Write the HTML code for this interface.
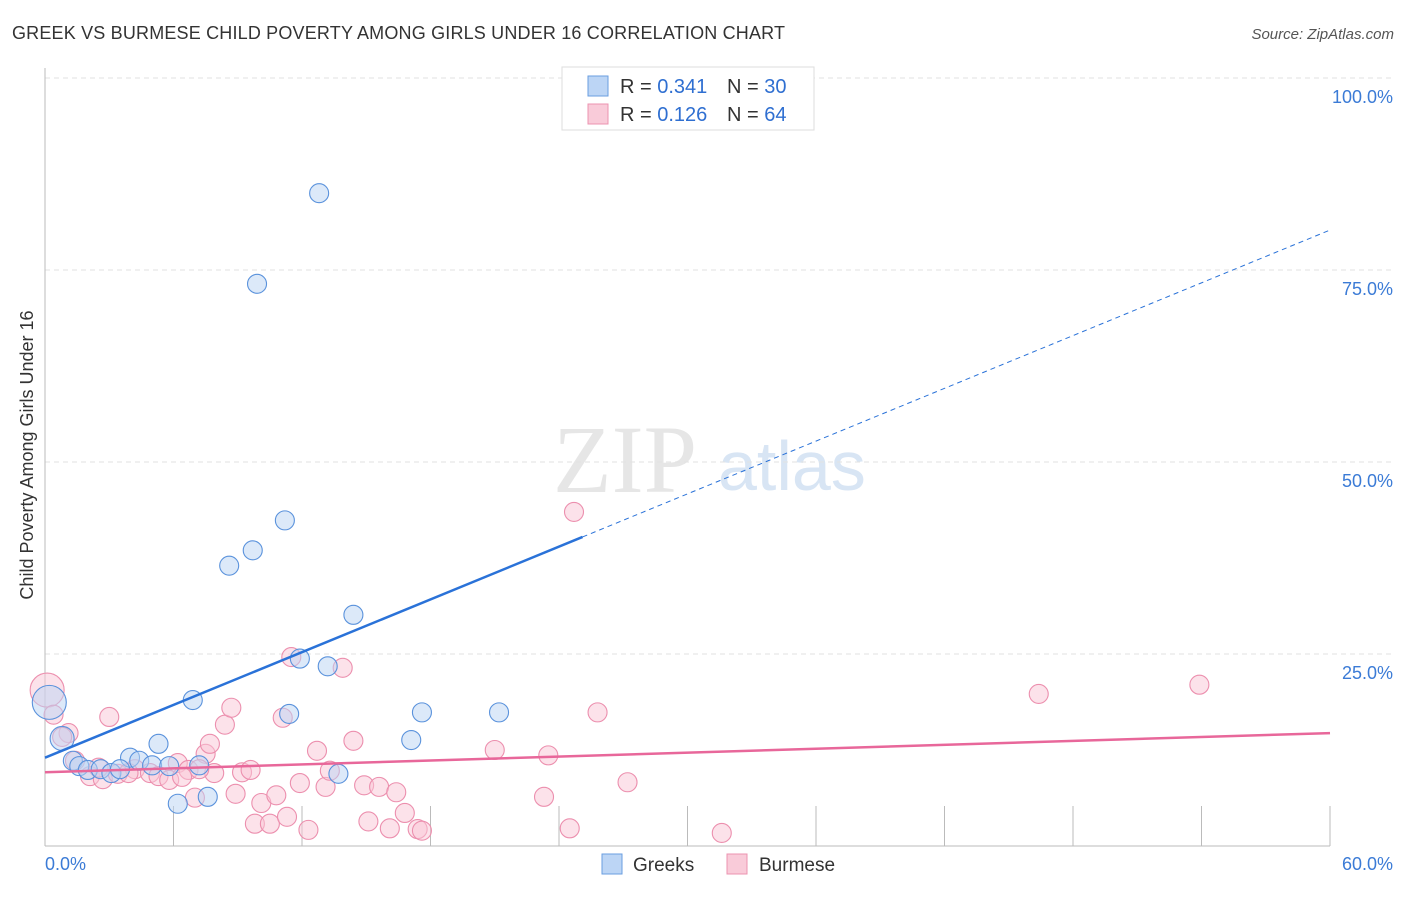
<!DOCTYPE html>
<html><head><meta charset="utf-8"><style>
body{margin:0;background:#fff;font-family:"Liberation Sans",sans-serif;}
</style></head><body>
<svg id="c" width="1406" height="892" xmlns="http://www.w3.org/2000/svg">
<text x="12" y="39" font-size="18" fill="#333" textLength="773">GREEK VS BURMESE CHILD POVERTY AMONG GIRLS UNDER 16 CORRELATION CHART</text>
<text x="1394" y="39" font-size="15" fill="#555" text-anchor="end" font-style="italic">Source: ZipAtlas.com</text>
<text x="553" y="492" font-size="96" fill="#e6e6e6" font-family="Liberation Serif">ZIP</text>
<text x="718" y="490" font-size="70" fill="#d8e5f4">atlas</text>
<g id="grid"></g><g id="marks"></g>
<text transform="translate(33,455) rotate(-90)" font-size="18" fill="#333" text-anchor="middle">Child Poverty Among Girls Under 16</text>
<g>
<rect x="562" y="67" width="252" height="63" fill="#fff" stroke="#ddd"/>
<rect x="588" y="76" width="20" height="20" fill="#bcd5f5" stroke="#6a9ee0"/>
<rect x="588" y="104" width="20" height="20" fill="#f9cbd9" stroke="#ec93b0"/>
<text x="620" y="93" font-size="20" fill="#333">R = <tspan fill="#2f6fd1">0.341</tspan></text>
<text x="727" y="93" font-size="20" fill="#333">N = <tspan fill="#2f6fd1">30</tspan></text>
<text x="620" y="121" font-size="20" fill="#333">R = <tspan fill="#2f6fd1">0.126</tspan></text>
<text x="727" y="121" font-size="20" fill="#333">N = <tspan fill="#2f6fd1">64</tspan></text>
</g>
<g>
<rect x="602" y="854" width="20" height="20" fill="#bcd5f5" stroke="#6a9ee0"/>
<text x="633" y="871" font-size="19" fill="#333">Greeks</text>
<rect x="727" y="854" width="20" height="20" fill="#f9cbd9" stroke="#ec93b0"/>
<text x="759" y="871" font-size="19" fill="#333">Burmese</text>
</g>
</svg>
<script>
const xTicks=[0,60];
const yTicks=[25,50,75,100];
const greeksX=[12.8,9.9,11.2,9.7,8.6,14.4,11.9,13.2,6.9,11.4,17.6,21.2,17.1,5.3,0.8,3.97,4.4,5.0,1.3,1.6,2.0,2.6,3.1,3.5,5.8,7.2,13.7,6.2,7.6,0.2];
const greeksY=[85.0,73.2,42.4,38.5,36.5,30.1,24.4,23.4,19.0,17.2,17.4,17.4,13.8,13.3,14.0,11.5,11.1,10.5,11.1,10.4,9.9,10.0,9.5,10.0,10.4,10.5,9.4,5.5,6.4,18.7];
const burmeseX=[0.1,0.4,1.1,3.0,1.4,2.1,2.7,3.4,4.2,4.9,5.3,5.8,6.2,6.7,7.5,7.7,8.4,8.7,7.9,8.9,9.2,9.6,10.1,9.8,10.5,10.8,11.3,12.3,11.9,12.7,13.1,13.3,13.9,14.4,14.9,15.1,15.6,16.1,16.4,16.8,17.4,17.6,11.5,11.1,7.2,21.0,23.5,23.3,24.5,25.8,27.2,31.6,46.4,53.9,24.7,7.0,6.4,3.9,2.5,0.8];
const burmeseY=[20.3,17.1,14.7,16.8,11.1,9.1,8.7,9.4,10.0,9.5,9.1,8.6,10.8,9.9,12.0,13.3,15.8,18.0,9.5,6.8,9.6,9.9,5.6,2.9,2.9,6.6,3.8,2.1,8.2,12.4,7.7,9.8,23.2,13.7,7.9,3.2,7.7,2.3,7.0,4.3,2.2,2.0,24.6,16.7,10.0,12.5,11.8,6.4,2.3,17.4,8.3,1.7,19.8,21.0,43.5,6.3,9.0,9.5,10.2,14.2];
const greeksTrend=[11.5,1.145];
const burmeseTrend=[9.6,0.085];
const NS='http://www.w3.org/2000/svg';
const X=v=>45+v*21.417, Y=v=>846-v*7.68;
const grid=document.getElementById('grid'), marks=document.getElementById('marks');
function mk(tag,at,parent){const e=document.createElementNS(NS,tag);for(const k in at)e.setAttribute(k,at[k]);parent.appendChild(e);return e;}
yTicks.forEach(t=>{
 const l=mk('line',{x1:45,x2:1394,y1:Y(t),y2:Y(t),stroke:'#e2e2e2','stroke-dasharray':'5,4'},grid);
 
 
 const tx=mk('text',{x:1393,y:Y(t)+25,'font-size':18,fill:'#3b7bd6','text-anchor':'end'},grid);
 tx.textContent=t.toFixed(1)+'%';
 
 
});
mk('line',{x1:45,x2:45,y1:68,y2:846,stroke:'#bbb'},grid);
mk('line',{x1:45,x2:1330,y1:846,y2:846,stroke:'#bbb'},grid);
for(let i=1;i<=10;i++){const x=45+i*128.5;mk('line',{x1:x,x2:x,y1:806,y2:846,stroke:'#bbb'},grid);}
xTicks.forEach((t,i)=>{
 const tx=mk('text',{x:i?1393:45,y:870,'font-size':18,fill:'#3b7bd6','text-anchor':i?'end':'start'},grid);
 tx.textContent=t.toFixed(1)+'%';
 
 
});
function pts(xs,ys,fill,stroke,name){xs.forEach((v,i)=>{
 const big=(i===xs.length-1&&name==='greek-point')||(i===0&&name==='burmese-point')||(name==='greek-point'&&i===14);
 const c=mk('circle',{cx:X(v),cy:Y(ys[i]),r:big?(i===14?12:17):9.5,fill:fill,'fill-opacity':0.5,stroke:stroke,'stroke-width':1.1},marks);
 
 
});}
pts(burmeseX,burmeseY,'#f9c6d6','#ec8fae','burmese-point');
pts(greeksX,greeksY,'#b9d3f4','#5a92dc','greek-point');
let l=mk('line',{x1:X(0),y1:Y(greeksTrend[0]),x2:X(25.1),y2:Y(greeksTrend[0]+greeksTrend[1]*25.1),stroke:'#2a72d8','stroke-width':2.5},marks);


l=mk('line',{x1:X(25.1),y1:Y(greeksTrend[0]+greeksTrend[1]*25.1),x2:X(60),y2:Y(greeksTrend[0]+greeksTrend[1]*60),stroke:'#2a72d8','stroke-width':1,'stroke-dasharray':'5,4'},marks);


l=mk('line',{x1:X(0),y1:Y(burmeseTrend[0]),x2:X(60),y2:Y(burmeseTrend[0]+burmeseTrend[1]*60),stroke:'#e8679a','stroke-width':2.5},marks);


</script>
</body></html>
